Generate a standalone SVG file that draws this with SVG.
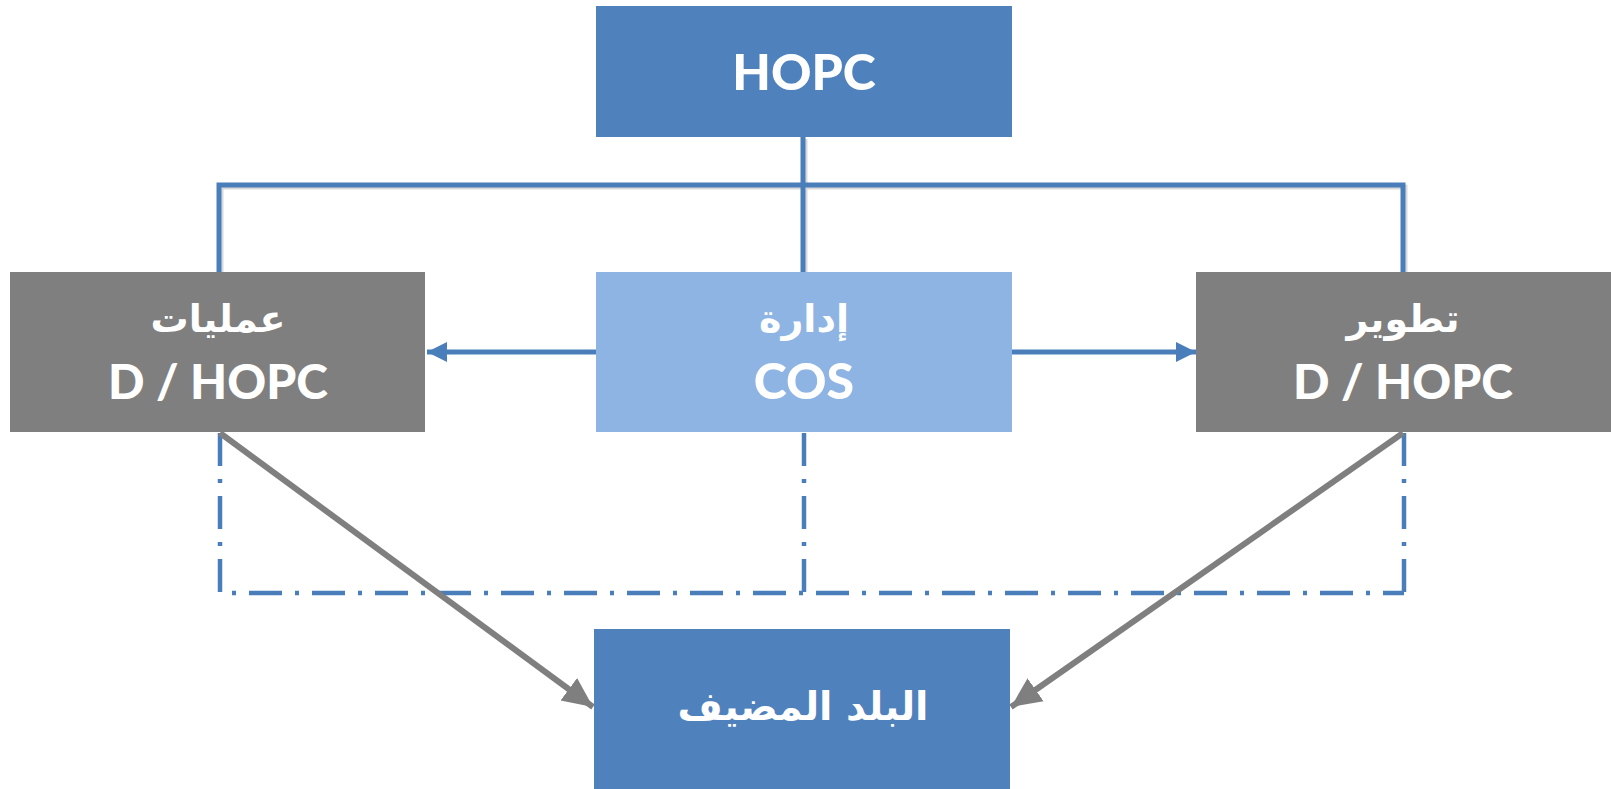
<svg xmlns="http://www.w3.org/2000/svg" width="1611" height="789" viewBox="0 0 1611 789">
<style>
.dark{fill:#4F81BD}
.gray{fill:#7F7F7F}
.light{fill:#8EB4E3}
.lat{font-family:Lato,"Open Sans","Liberation Sans",sans-serif;font-weight:900;fill:#fff;text-anchor:middle}
.ar{font-family:"DejaVu Sans","Noto Sans",sans-serif;font-weight:bold;fill:#fff;text-anchor:middle}
.solid{stroke:#4A7EBB;stroke-width:5;fill:none}
.shadow{stroke:#000;stroke-opacity:0.15;stroke-width:5;fill:none}
.dd{stroke:#4A7EBB;stroke-width:4.5;fill:none;stroke-dasharray:33 13 4 13}
.garrow{stroke:#7F7F7F;stroke-width:6;fill:none}
</style>
<defs>
<marker id="ab" viewBox="0 0 20 20" refX="20" refY="10" markerWidth="20" markerHeight="20" markerUnits="userSpaceOnUse" orient="auto">
<path d="M0,0 L20,10 L0,20 Z" fill="#4A7EBB"/>
</marker>
<marker id="ag" viewBox="0 0 32 32" refX="30" refY="16" markerWidth="32" markerHeight="32" markerUnits="userSpaceOnUse" orient="auto">
<path d="M0,2 L30,16 L0,30 Z" fill="#7F7F7F"/>
</marker>
</defs>
<rect width="1611" height="789" fill="#fff"/>
<g id="connectors">
<path class="shadow" d="M805,139 V274 M221,274 V187 H1405 V274"/>
<path class="solid" d="M803,137 V272 M219,272 V185 H1403 V272"/>
<line class="solid" x1="596" y1="352" x2="427" y2="352" marker-end="url(#ab)"/>
<line class="solid" x1="1012" y1="352" x2="1196" y2="352" marker-end="url(#ab)"/>
<path class="dd" d="M220,433 V593 H1404"/>
<path class="dd" d="M804,433 V593"/>
<path class="dd" d="M1404,433 V593"/>
<line class="garrow" x1="220" y1="433" x2="593" y2="707" marker-end="url(#ag)"/>
<line class="garrow" x1="1403" y1="433" x2="1011" y2="707" marker-end="url(#ag)"/>
</g>
<g id="hopc">
<rect class="dark" x="596" y="6" width="416" height="131"/>
<text class="lat" x="804" y="90" font-size="50">HOPC</text>
</g>
<g id="operations">
<rect class="gray" x="10" y="272" width="415" height="160"/>
<text class="ar" x="218" y="332" font-size="38">عمليات</text>
<text class="lat" x="218" y="399" font-size="48">D / HOPC</text>
</g>
<g id="cos">
<rect class="light" x="596" y="272" width="416" height="160"/>
<text class="ar" x="804" y="332" font-size="38">إدارة</text>
<text class="lat" x="804" y="399" font-size="50">COS</text>
</g>
<g id="development">
<rect class="gray" x="1196" y="272" width="415" height="160"/>
<text class="ar" x="1403" y="332" font-size="38">تطوير</text>
<text class="lat" x="1403" y="399" font-size="48">D / HOPC</text>
</g>
<g id="host">
<rect class="dark" x="594" y="629" width="416" height="160"/>
<text class="ar" x="803" y="720" font-size="39">البلد المضيف</text>
</g>
</svg>
